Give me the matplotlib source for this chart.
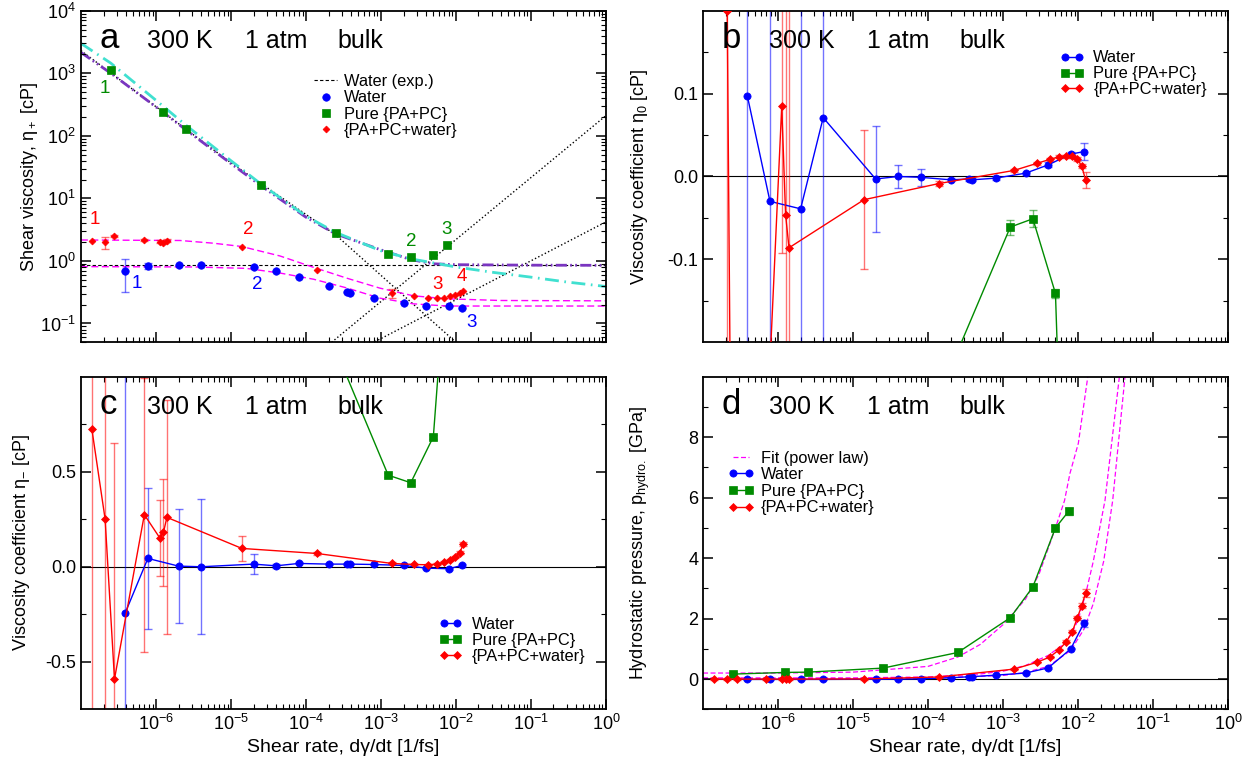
import matplotlib
matplotlib.use("Agg")
import matplotlib.pyplot as plt
import matplotlib.ticker as ticker
import numpy as np

plt.rcParams['font.family'] = ['Liberation Sans', 'DejaVu Sans']
plt.rcParams['mathtext.fontset'] = 'custom'
plt.rcParams['mathtext.rm'] = 'Liberation Sans'
plt.rcParams['mathtext.it'] = 'Liberation Sans:italic'
plt.rcParams['mathtext.bf'] = 'Liberation Sans:bold'
plt.rcParams['axes.unicode_minus'] = False

BLUE = '#0000ff'
GREEN = '#008b00'
RED = '#ff0000'
MAGENTA = '#ff00ff'
CYAN = '#40e0d0'
PURPLE = '#7a35c0'

# shear rates [1/fs]
rate_water = np.array([3.9e-7, 7.8e-7, 2e-6, 4e-6, 2e-5, 4e-5, 8e-5, 2e-4, 3.5e-4,
                       3.9e-4, 8e-4, 2e-3, 4e-3, 8e-3, 1.2e-2])
rate_pure = np.array([2.5e-7, 1.25e-6, 2.5e-6, 2.5e-5, 2.5e-4, 1.25e-3, 2.5e-3, 5e-3, 7.5e-3])
rate_mix = np.array([1.4e-7, 2.1e-7, 2.8e-7, 7e-7, 1.12e-6, 1.26e-6, 1.4e-6, 1.4e-5, 1.4e-4,
                     1.4e-3, 2.8e-3, 4.2e-3, 5.6e-3, 7e-3, 8.4e-3, 9.8e-3, 1.12e-2, 1.26e-2])

# (a) shear viscosity eta+ [cP]
water_exp = 0.85
water_etap = [0.70, 0.83, 0.86, 0.86, 0.785, 0.69, 0.555, 0.39, 0.32, 0.305, 0.257, 0.211,
              0.189, 0.189, 0.175]
water_etap_err = [0.385, 0.09, 0, 0, 0, 0, 0, 0, 0, 0, 0, 0, 0, 0, 0]
pure_etap = [1110, 240, 127, 16.4, 2.77, 1.29, 1.15, 1.23, 1.80]
mix_etap = [2.05, 1.98, 2.52, 2.15, 2.03, 1.95, 2.10, 1.69, 0.71, 0.307, 0.272, 0.259, 0.255,
            0.259, 0.272, 0.288, 0.305, 0.335]
mix_etap_err = [0, 0.45, 0.12, 0.1, 0.1, 0.1, 0.1, 0, 0, 0.055, 0, 0, 0, 0, 0, 0, 0, 0]

# fit / guide curves
cyan_x = [1e-7, 2.5e-7, 1e-6, 2.5e-6, 1e-5, 2.5e-5, 1e-4, 2.5e-4, 1e-3, 2.5e-3, 5e-3, 1e-2,
          3e-2, 1e-1, 3e-1, 1]
cyan_y = [3000, 1450, 370, 148, 40, 17, 5.2, 2.85, 1.45, 1.08, 0.93, 0.8, 0.66, 0.55, 0.46, 0.39]
purple_x = [1e-7, 2.5e-7, 1e-6, 2.5e-6, 1e-5, 2.5e-5, 1e-4, 2.5e-4, 1e-3, 2.5e-3, 5e-3, 1e-2,
            1e-1, 1]
purple_y = [2150, 1000, 290, 125, 36, 16, 5.0, 2.7, 1.5, 1.05, 0.9, 0.87, 0.855, 0.85]
dot1_x, dot1_y = [1e-7, 1e-5, 2.5e-4, 2e-3, 1e-2], [2300, 37, 2.6, 0.28, 0.05]
dot2_x, dot2_y = [2.2e-4, 1], [0.05, 210]
dot3_x, dot3_y = [8.3e-4, 1], [0.051, 4.2]
mixfit_a_x = [1e-7, 2.1e-6, 5.8e-6, 1.39e-5, 4.5e-5, 1.26e-4, 3.5e-4, 9.7e-4, 2.7e-3, 7.5e-3,
              3.9e-2, 1]
mixfit_a_y = [2.16, 2.12, 1.92, 1.70, 1.20, 0.79, 0.53, 0.367, 0.277, 0.248, 0.233, 0.23]
waterfit_a_x = [1e-7, 3.2e-6, 1.6e-5, 4.5e-5, 1.26e-4, 3.5e-4, 9.7e-4, 2.7e-3, 7.5e-3, 1]
waterfit_a_y = [0.81, 0.80, 0.76, 0.64, 0.51, 0.37, 0.254, 0.206, 0.19, 0.19]

# (b) viscosity coefficient eta0 [cP]
water_eta0 = [0.097, -0.030, -0.039, 0.071, -0.003, 0.000, -0.001, -0.004, -0.003, -0.004,
              -0.002, 0.004, 0.014, 0.027, 0.030]
water_eta0_err = [1, 1, 1, 1, 0.064, 0.014, 0.010, 0.002, 0.002, 0.002, 0.002, 0.002, 0.003,
                  0.003, 0.010]
pure_eta0 = [-60, -20, -12, -3, -0.21, -0.061, -0.051, -0.141, -0.62]
pure_eta0_err = [0.1, 0.1, 0.1, 0.1, 0.005, 0.009, 0.010, 0.005, 0.02]
mix_eta0 = [0.5, 0.20, -1.2, -0.32, 0.085, -0.046, -0.086, -0.028, -0.0085, 0.0073, 0.0157,
            0.0206, 0.0238, 0.0242, 0.0242, 0.021, 0.0125, -0.004]
mix_eta0_err = [0.1, 1.0, 0.1, 0.1, 0.177, 0.5, 0.5, 0.084, 0.003, 0.002, 0.002, 0.002, 0.002,
                0.002, 0.002, 0.002, 0.002, 0.0095]

# (c) viscosity coefficient eta- [cP]
water_etam = [-0.242, 0.044, 0.0035, 0.0, 0.014, 0.005, 0.0175, 0.014, 0.014, 0.014, 0.012,
              0.007, -0.007, -0.0105, 0.007]
water_etam_err = [2.0, 0.37, 0.30, 0.355, 0.054, 0.01, 0.005, 0.004, 0.004, 0.004, 0.004,
                  0.004, 0.005, 0.006, 0.006]
pure_etam = [30, 10, 6, 2.5, 1.14, 0.482, 0.442, 0.684, 1.61]
pure_etam_err = [0.1, 0.1, 0.1, 0.1, 0.02, 0.01, 0.01, 0.01, 0.02]
mix_etam = [0.723, 0.251, -0.591, 0.274, 0.153, 0.181, 0.260, 0.0965, 0.070, 0.0175, 0.012,
            0.0105, 0.014, 0.023, 0.035, 0.05, 0.074, 0.119]
mix_etam_err = [3.0, 2.0, 1.24, 0.72, 0.20, 0.283, 0.616, 0.068, 0.008, 0.005, 0.004, 0.004,
                0.004, 0.005, 0.005, 0.006, 0.008, 0.012]

# (d) hydrostatic pressure [GPa]
water_p = [-0.01, -0.01, -0.01, -0.01, -0.005, 0.0, 0.01, 0.043, 0.077, 0.08, 0.13, 0.20,
           0.37, 1.0, 1.85]
water_p_err = [0.02] * 14 + [0.12]
pure_p = [0.165, 0.22, 0.23, 0.363, 0.88, 2.03, 3.05, 5.0, 5.55]
pure_p_err = [0.03, 0.03, 0.03, 0.03, 0.05, 0.08, 0.1, 0.1, 0.12]
mix_p = [0.0, 0.0, 0.0, 0.0, 0.0, 0.0, 0.0, 0.005, 0.07, 0.33, 0.55, 0.73, 0.97, 1.24, 1.57,
         2.03, 2.43, 2.84]
mix_p_err = [0.02] * 13 + [0.04, 0.05, 0.06, 0.08, 0.13]
fit_pure_x = [1e-7, 1e-6, 1e-5, 1e-4, 2.5e-4, 5e-4, 1e-3, 2e-3, 3e-3, 5e-3, 6.6e-3, 7.8e-3,
              1.01e-2, 1.35e-2]
fit_pure_y = [0.2, 0.2, 0.23, 0.42, 0.73, 1.15, 1.8, 2.65, 3.45, 5.0, 5.9, 6.8, 7.8, 10.0]
fit_mix_x = [1e-7, 1e-5, 1e-4, 5e-4, 1e-3, 2e-3, 4e-3, 6e-3, 8e-3, 1e-2, 1.26e-2, 1.6e-2,
             2.29e-2, 3.56e-2]
fit_mix_y = [0.04, 0.04, 0.07, 0.17, 0.26, 0.45, 0.78, 1.1, 1.45, 1.95, 2.8, 3.9, 5.91, 10.0]
fit_water_x = [1e-7, 1e-5, 1e-4, 1e-3, 2e-3, 4e-3, 8e-3, 1.2e-2, 1.6e-2, 2.2e-2, 2.9e-2, 4.23e-2]
fit_water_y = [0.01, 0.01, 0.03, 0.12, 0.22, 0.42, 0.95, 1.65, 2.5, 3.9, 5.91, 10.0]

lbl_water = "Water"
lbl_pure = "Pure {PA+PC}"
lbl_mix = "{PA+PC+water}"


def draw_series(ax, x, y, err, color, marker, ms, line=True):
    x = np.asarray(x)
    y = np.asarray(y, dtype=float)
    err = np.asarray(err, dtype=float)
    m = err > 0
    if m.any():
        ax.errorbar(x[m], y[m], yerr=err[m], fmt='none', ecolor=color, elinewidth=1.0,
                    capsize=3, capthick=1.0, alpha=0.55, zorder=2)
    h, = ax.plot(x, y, marker=marker, ls='-' if line else 'none', color=color, ms=ms,
                 mec=color, mew=0.5, lw=1.0, zorder=3)
    return h


def style_axes(ax, bottom_labels):
    ax.set_xscale('log')
    ax.set_xlim(1e-7, 1)
    ax.xaxis.set_major_locator(ticker.FixedLocator(10.0 ** np.arange(-6, 1)))
    ax.xaxis.set_minor_locator(ticker.LogLocator(base=10, subs=np.arange(2, 10), numticks=30))
    ax.xaxis.set_major_formatter(ticker.LogFormatterSciNotation())
    ax.tick_params(which='both', direction='in', top=True, right=True, labelsize=13)
    ax.tick_params(which='major', length=7, width=1.1, pad=3.5)
    ax.tick_params(which='minor', length=3.5, width=0.8)
    ax.tick_params(axis='x', labelbottom=bottom_labels)
    for s in ax.spines.values():
        s.set_linewidth(1.3)
    if bottom_labels:
        ax.set_xlabel("Shear rate, dγ/dt [1/fs]", fontsize=14)
        ax.xaxis.set_label_coords(0.5, -0.088)


def panel_title(ax, letter):
    ax.text(0.035, 0.8866, letter, transform=ax.transAxes, fontsize=25, va='baseline')
    ax.text(0.126, 0.8866, "300 K", transform=ax.transAxes, fontsize=18, va='baseline')
    ax.text(0.312, 0.8866, "1 atm", transform=ax.transAxes, fontsize=18, va='baseline')
    ax.text(0.488, 0.8866, "bulk", transform=ax.transAxes, fontsize=18, va='baseline')


fig = plt.figure(figsize=(12.55, 7.68), dpi=100)
ax_a = fig.add_axes([0.0645, 0.5543, 0.4183, 0.4318])
ax_b = fig.add_axes([0.5602, 0.5543, 0.4183, 0.4318])
ax_c = fig.add_axes([0.0645, 0.0764, 0.4183, 0.4331])
ax_d = fig.add_axes([0.5602, 0.0764, 0.4183, 0.4331])

# ---------------- panel a
style_axes(ax_a, False)
ax_a.set_yscale('log')
ax_a.set_ylim(0.05, 1e4)
ax_a.yaxis.set_major_locator(ticker.FixedLocator(10.0 ** np.arange(-1, 5)))
ax_a.yaxis.set_minor_locator(ticker.LogLocator(base=10, subs=np.arange(2, 10), numticks=30))
ax_a.yaxis.set_major_formatter(ticker.LogFormatterSciNotation())
h_exp = ax_a.axhline(water_exp, color='black', ls=(0, (3, 2)), lw=0.8, zorder=1)
ax_a.plot(dot1_x, dot1_y, color='black', ls=':', lw=1.0, zorder=1)
ax_a.plot(dot2_x, dot2_y, color='black', ls=':', lw=1.0, zorder=1)
ax_a.plot(dot3_x, dot3_y, color='black', ls=':', lw=1.0, zorder=1)
ax_a.plot(purple_x, purple_y, color=PURPLE, lw=2.0, ls=(0, (4, 1.2, 0.6, 1.2, 0.6, 1.2)), zorder=1)
ax_a.plot(cyan_x, cyan_y, color=CYAN, lw=2.0, ls=(0, (5, 2, 0.6, 2)), zorder=1)
ax_a.plot(mixfit_a_x, mixfit_a_y, color=MAGENTA, lw=1.0, ls=(0, (5, 2.5)), zorder=1)
ax_a.plot(waterfit_a_x, waterfit_a_y, color=MAGENTA, lw=1.0, ls=(0, (5, 2.5)), zorder=1)
h_wa = draw_series(ax_a, rate_water, water_etap, water_etap_err, BLUE, 'o', 5.4, line=False)
h_pa = draw_series(ax_a, rate_pure, pure_etap, [0] * 9, GREEN, 's', 6.2, line=False)
h_ma = draw_series(ax_a, rate_mix, mix_etap, mix_etap_err, RED, 'D', 3.5, line=False)
ax_a.set_ylabel("Shear viscosity, η$_+$ [cP]", fontsize=13)
ax_a.yaxis.set_label_coords(-0.078, 0.5)
panel_title(ax_a, "a")
ax_a.legend([h_exp, h_wa, h_pa, h_ma], ["Water (exp.)", lbl_water, lbl_pure, lbl_mix],
            loc='upper left', bbox_to_anchor=(0.4448, 0.809), frameon=False, fontsize=11.8,
            borderpad=0, borderaxespad=0, handlelength=1.37, handletextpad=0.44,
            labelspacing=0.08, numpoints=1)

# numbered state labels
num_labels = [("1", 2.06e-7, 577, GREEN), ("1", 1.54e-7, 4.56, RED), ("2", 1.70e-5, 3.16, RED),
              ("1", 5.64e-7, 0.43, BLUE), ("2", 2.27e-5, 0.414, BLUE), ("2", 2.57e-3, 2.05, GREEN),
              ("3", 7.52e-3, 3.16, GREEN), ("3", 5.64e-3, 0.414, RED), ("4", 1.19e-2, 0.562, RED),
              ("3", 1.62e-2, 0.1025, BLUE)]
for t, x, y, c in num_labels:
    ax_a.text(x, y, t, color=c, fontsize=13.5, ha='center', va='center')

# ---------------- panel b
style_axes(ax_b, False)
ax_b.set_ylim(-0.2, 0.2)
ax_b.yaxis.set_major_locator(ticker.FixedLocator([-0.1, 0.0, 0.1]))
ax_b.yaxis.set_minor_locator(ticker.FixedLocator([-0.15, -0.05, 0.05, 0.15]))
ax_b.yaxis.set_major_formatter(ticker.FormatStrFormatter('%.1f'))
ax_b.axhline(0, color='black', lw=0.8, zorder=1)
h_wb = draw_series(ax_b, rate_water, water_eta0, water_eta0_err, BLUE, 'o', 5.2)
h_pb = draw_series(ax_b, rate_pure, pure_eta0, pure_eta0_err, GREEN, 's', 5.9)
h_mb = draw_series(ax_b, rate_mix, mix_eta0, mix_eta0_err, RED, 'D', 3.6)
ax_b.set_ylabel("Viscosity coefficient η$_0$ [cP]", fontsize=13)
ax_b.yaxis.set_label_coords(-0.101, 0.5)
panel_title(ax_b, "b")
ax_b.legend([h_wb, h_pb, h_mb], [lbl_water, lbl_pure, lbl_mix], loc='upper left',
            bbox_to_anchor=(0.681, 0.88), frameon=False, fontsize=11.8, borderpad=0,
            borderaxespad=0, handlelength=1.4, handletextpad=0.6, labelspacing=0.05,
            numpoints=2)

# ---------------- panel c
style_axes(ax_c, True)
ax_c.set_ylim(-0.75, 1.0)
ax_c.yaxis.set_major_locator(ticker.FixedLocator([-0.5, 0.0, 0.5]))
ax_c.yaxis.set_minor_locator(ticker.FixedLocator([-0.25, 0.25, 0.75]))
ax_c.yaxis.set_major_formatter(ticker.FormatStrFormatter('%.1f'))
ax_c.axhline(0, color='black', lw=0.8, zorder=1)
h_wc = draw_series(ax_c, rate_water, water_etam, water_etam_err, BLUE, 'o', 5.2)
h_pc = draw_series(ax_c, rate_pure, pure_etam, pure_etam_err, GREEN, 's', 5.9)
h_mc = draw_series(ax_c, rate_mix, mix_etam, mix_etam_err, RED, 'D', 3.6)
ax_c.set_ylabel("Viscosity coefficient η$_{-}$ [cP]", fontsize=13)
ax_c.yaxis.set_label_coords(-0.093, 0.5)
panel_title(ax_c, "c")
ax_c.legend([h_wc, h_pc, h_mc], [lbl_water, lbl_pure, lbl_mix], loc='upper left',
            bbox_to_anchor=(0.682, 0.277), frameon=False, fontsize=11.8, borderpad=0,
            borderaxespad=0, handlelength=1.4, handletextpad=0.62, labelspacing=0.05,
            numpoints=2)

# ---------------- panel d
style_axes(ax_d, True)
ax_d.set_ylim(-1, 10)
ax_d.yaxis.set_major_locator(ticker.FixedLocator([0, 2, 4, 6, 8]))
ax_d.yaxis.set_minor_locator(ticker.FixedLocator([-1, 1, 3, 5, 7, 9]))
ax_d.yaxis.set_major_formatter(ticker.FormatStrFormatter('%d'))
ax_d.axhline(0, color='black', lw=0.8, zorder=1)
fit_kw = dict(color=MAGENTA, lw=0.9, ls=(0, (4, 2)), zorder=1)
h_fit, = ax_d.plot(fit_pure_x, fit_pure_y, **fit_kw)
ax_d.plot(fit_mix_x, fit_mix_y, **fit_kw)
ax_d.plot(fit_water_x, fit_water_y, **fit_kw)
h_wd = draw_series(ax_d, rate_water, water_p, water_p_err, BLUE, 'o', 5.2)
h_pd = draw_series(ax_d, rate_pure, pure_p, pure_p_err, GREEN, 's', 5.9)
h_md = draw_series(ax_d, rate_mix, mix_p, mix_p_err, RED, 'D', 3.6)
ax_d.set_ylabel("Hydrostatic pressure, p$_{\\mathrm{hydro.}}$ [GPa]", fontsize=13)
ax_d.yaxis.set_label_coords(-0.097, 0.5)
panel_title(ax_d, "d")
ax_d.legend([h_fit, h_wd, h_pd, h_md], ["Fit (power law)", lbl_water, lbl_pure, lbl_mix],
            loc='upper left', bbox_to_anchor=(0.0486, 0.778), frameon=False, fontsize=11.8,
            borderpad=0, borderaxespad=0, handlelength=1.52, handletextpad=0.43,
            labelspacing=0.1, numpoints=2)

fig.savefig("out.png", dpi=100)
